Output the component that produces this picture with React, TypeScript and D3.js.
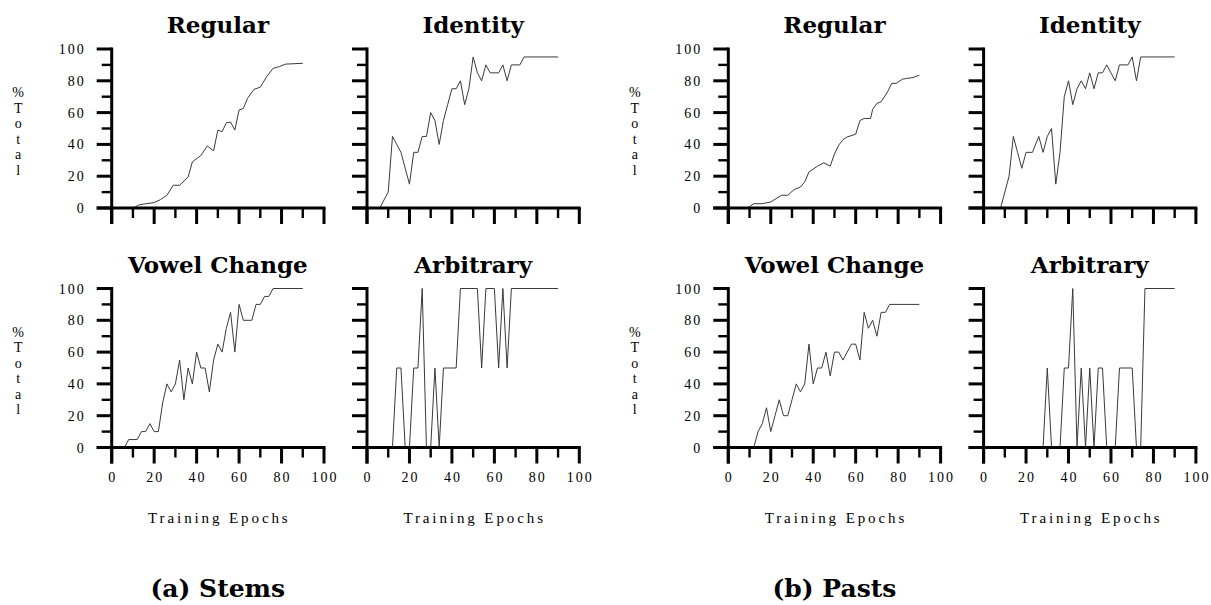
import React from "react";
import * as d3 from "d3";

type Pt = [number, number];

// ---- data (epoch, % total) ----
const stemsRegular: Pt[] = [[10,0],[13,2],[16,2.7],[20,3.4],[23,5.3],[26,8],[29,14.3],[32,14.3],[36,19.5],[38,29],[42,33],[45,39],[48,36],[50,49],[52,48],[54,53.6],[56,54],[58,49],[60,61.6],[62,62.6],[64,69],[67,74.6],[70,76],[73,82.6],[76,87.8],[79,89],[82,90.5],[90,91]];
const stemsIdentity: Pt[] = [[6,0],[8,5],[10,10],[12,45],[14,40],[16,35],[18,25],[20,15],[22,35],[24,35],[26,45],[28,45],[30,60],[32,55],[34,40],[36,55],[38,65],[40,75],[42,75],[44,80],[46,65],[48,75],[50,95],[52,85],[54,80],[56,90],[58,85],[62,85],[64,90],[66,80],[68,90],[72,90],[74,95],[90,95]];
const stemsVowel: Pt[] = [[6,0],[8,5],[12,5],[14,10],[16,10],[18,15],[20,10],[22,10],[24,28],[26,40],[28,35],[30,40],[32,55],[34,30],[36,50],[38,40],[40,60],[42,50],[44,50],[46,35],[48,55],[50,65],[52,60],[54,75],[56,85],[58,60],[60,90],[62,80],[66,80],[68,90],[70,90],[72,95],[74,95],[76,100],[90,100]];
const stemsArbitrary: Pt[] = [[12,0],[14,50],[16,50],[18,0],[20,0],[22,50],[24,50],[26,100],[28,0],[30,0],[32,50],[34,0],[36,50],[42,50],[44,100],[52,100],[54,50],[56,100],[60,100],[62,50],[64,100],[66,50],[68,100],[90,100]];
const pastsRegular: Pt[] = [[9,0],[12,2.7],[16,2.7],[20,3.8],[25,8],[28,8],[31,11.6],[34,13.2],[36,16.4],[38,22.7],[42,26.3],[45,28.4],[48,26.3],[50,34],[52,39.5],[54,43],[56,44.7],[60,46.4],[62,55],[64,56.3],[67,56.3],[68,62],[70,65.8],[72,66.8],[75,73],[77,78.4],[79,78.4],[82,81],[84,81.5],[87,82],[90,83.6]];
const pastsIdentity: Pt[] = [[8,0],[10,10],[12,20],[14,45],[16,35],[18,25],[20,35],[23,35],[26,45],[28,35],[30,45],[32,50],[34,15],[36,35],[38,70],[40,80],[42,65],[44,75],[46,80],[48,75],[50,85],[52,75],[54,85],[56,85],[58,90],[60,85],[62,80],[64,90],[68,90],[70,95],[72,80],[74,95],[90,95]];
const pastsVowel: Pt[] = [[12,0],[14,10],[16,15],[18,25],[20,10],[22,20],[24,30],[26,20],[28,20],[30,30],[32,40],[34,35],[36,40],[38,65],[40,40],[42,50],[44,50],[46,60],[48,45],[50,60],[52,60],[54,55],[56,60],[58,65],[60,65],[62,55],[64,85],[66,75],[68,80],[70,70],[72,85],[74,85],[76,90],[90,90]];
const pastsArbitrary: Pt[] = [[28,0],[30,50],[32,0],[36,0],[38,50],[40,50],[42,100],[44,0],[46,50],[48,0],[50,50],[52,0],[54,50],[56,50],[58,0],[62,0],[64,50],[70,50],[72,0],[74,0],[76,100],[90,100]];

const panelTitles = ["Regular", "Identity", "Vowel Change", "Arbitrary"];
const captions = ["(a) Stems", "(b) Pasts"];
const yTickLabels = [0, 20, 40, 60, 80, 100];
const xTickLabels = [0, 20, 40, 60, 80, 100];
const yLabelLetters = ["%", "T", "o", "t", "a", "l"];
const xAxisTitle = "Training Epochs";

const blocks = [
  { series: [stemsRegular, stemsIdentity, stemsVowel, stemsArbitrary], caption: captions[0] },
  { series: [pastsRegular, pastsIdentity, pastsVowel, pastsArbitrary], caption: captions[1] },
];

// ---- layout ----
const W = 1211, H = 605;
const blockX = [111.7, 728.3];
const colOffset = 255.3;
const plotW = 212.3;
const rowY0 = [208, 447.5];
const plotH = 159;
const serif = "'Liberation Serif', 'Times New Roman', serif";
const boldSerif = "'DejaVu Serif', serif";

function Panel({ x0, y0, data, title, showXLabels, showYLabels }: { x0: number; y0: number; data: Pt[]; title: string; showXLabels: boolean; showYLabels: boolean }) {
  const x = d3.scaleLinear().domain([0, 100]).range([x0, x0 + plotW]);
  const y = d3.scaleLinear().domain([0, 100]).range([y0, y0 - plotH]);
  const line = d3.line<Pt>().x(d => x(d[0])).y(d => y(d[1]));
  const yTicks = d3.range(0, 101, 10);
  const xTicks = d3.range(0, 101, 10);
  return (
    <g>
      <text x={x0 + plotW / 2} y={y(100) - 16} textAnchor="middle" fontFamily={boldSerif} fontWeight="bold" fontSize={23} fill="#000">{title}</text>
      <path d={line(data) || ""} fill="none" stroke="#3a3a3a" strokeWidth={1} />
      {/* y axis */}
      <line x1={x0} x2={x0} y1={y(100) - 1.5} y2={y0 + 16} stroke="#000" strokeWidth={3} />
      {yTicks.map(t => (
        <line key={"y" + t} x1={x0 - (t % 20 === 0 ? 15 : 10)} x2={x0} y1={y(t)} y2={y(t)} stroke="#000" strokeWidth={t % 20 === 0 ? 3 : 2.4} />
      ))}
      {/* x axis */}
      <line x1={x0 - 15} x2={x(100) + 1.5} y1={y0} y2={y0} stroke="#000" strokeWidth={3} />
      {xTicks.map(t => (
        <line key={"x" + t} x1={x(t)} x2={x(t)} y1={y0} y2={y0 + (t % 20 === 0 ? 16 : 10)} stroke="#000" strokeWidth={t % 20 === 0 ? 3 : 2.4} />
      ))}
      {showYLabels && yTickLabels.map(t => (
        <text key={"yl" + t} x={x0 - 26} y={y(t) + 5} textAnchor="end" fontFamily={serif} fontSize={14} letterSpacing={2} fill="#000">{t}</text>
      ))}
      {showXLabels && xTickLabels.map(t => (
        <text key={"xl" + t} x={x(t) + 1} y={y0 + 34} textAnchor="middle" fontFamily={serif} fontSize={14} letterSpacing={2} fill="#000">{t}</text>
      ))}
      {showXLabels && (
        <text x={x0 + plotW / 2 + 1.5} y={y0 + 75.5} textAnchor="middle" fontFamily={serif} fontSize={15} letterSpacing={2.9} fill="#000">{xAxisTitle}</text>
      )}
    </g>
  );
}

export default function App() {
  return (
    <svg width={W} height={H} style={{ position: "absolute", left: 0, top: 0, background: "#fff" }}>
      <rect width={W} height={H} fill="#fff" />
      {blocks.map((b, bi) => (
        <g key={bi}>
          {[0, 1].map(row => (
            <g key={row}>
              {[0, 1].map(col => (
                <Panel key={col}
                  x0={blockX[bi] + col * colOffset}
                  y0={rowY0[row]}
                  data={b.series[row * 2 + col]}
                  title={panelTitles[row * 2 + col]}
                  showXLabels={row === 1}
                  showYLabels={col === 0} />
              ))}
              {yLabelLetters.map((ch, i) => (
                <text key={ch + i} x={blockX[bi] - 93.5} y={rowY0[row] - 111 + i * 15.5} textAnchor="middle" fontFamily={serif} fontSize={14} fill="#000">{ch}</text>
              ))}
            </g>
          ))}
          <text x={blockX[bi] + plotW / 2} y={597} textAnchor="middle" fontFamily={boldSerif} fontWeight="bold" fontSize={25} fill="#000">{b.caption}</text>
        </g>
      ))}
    </svg>
  );
}
